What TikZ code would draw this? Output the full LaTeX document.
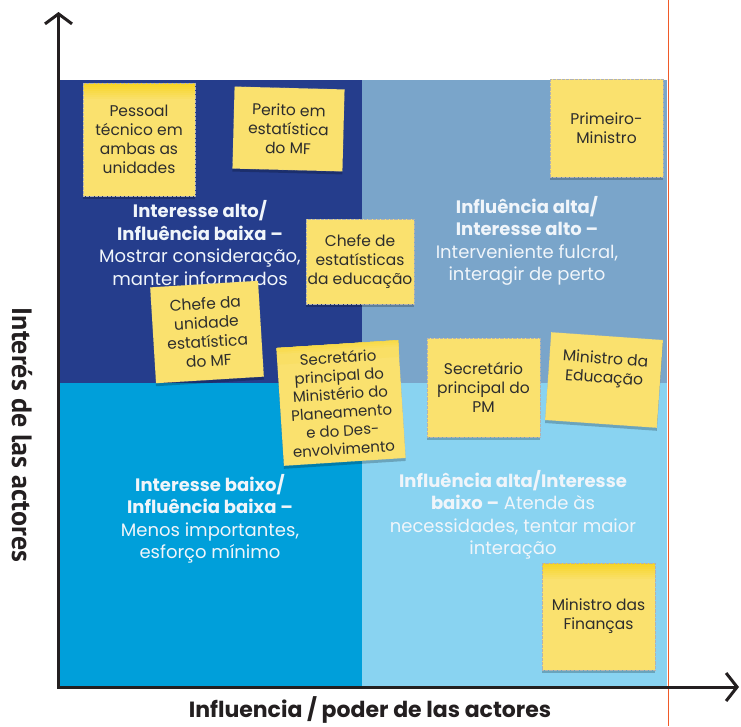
\documentclass[tikz,border=0pt]{standalone}
\usepackage{fontspec}
\setmainfont{Poppins}
\newfontfamily\axisfont{PT Sans}
\usetikzlibrary{arrows.meta,shadows}
\definecolor{qTL}{RGB}{37,61,140}
\definecolor{qTR}{RGB}{122,165,202}
\definecolor{qBL}{RGB}{0,159,218}
\definecolor{qBR}{RGB}{137,211,241}
\definecolor{sticky}{RGB}{250,225,110}
\definecolor{stickytop}{RGB}{246,212,38}
\definecolor{axiscol}{RGB}{35,31,32}
\definecolor{orangeline}{RGB}{240,90,40}
\definecolor{notetext}{RGB}{45,45,45}
\definecolor{qtext}{RGB}{240,245,250}
\tikzset{
  note/.style={fill=sticky, draw=black!30, densely dotted, line width=0.3pt,
    inner sep=0pt, align=center, text=notetext,
    font=\fontsize{15.5}{19}\selectfont,
    drop shadow={shadow xshift=0pt, shadow yshift=-3pt, opacity=0.22, fill=black}},
  gradnote/.style={note,
    path picture={\foreach \i in {0,...,7}{
      \pgfmathsetmacro\pct{100-\i*12.5}
      \fill[stickytop!\pct!sticky]
        ([yshift=-\i*2pt]path picture bounding box.north west) rectangle
        ([yshift=-\i*2pt-2.2pt]path picture bounding box.north east);}}},
  qlabel/.style={align=center, text=qtext, font=\fontsize{18}{22.5}\selectfont},
  axisline/.style={draw=axiscol, line width=3pt, line join=miter,
    {Straight Barb[length=10pt,width=27pt,line width=3pt]}-{Straight Barb[length=11pt,width=28pt,line width=3pt]}},
  axislabel/.style={text=axiscol, font=\axisfont\bfseries\fontsize{28}{32}\selectfont}
}
\begin{document}
\begin{tikzpicture}[x=1pt,y=-1pt]
\useasboundingbox (0,0) rectangle (741,726);
% quadrants
\fill[qTL] (60,80) rectangle (362,383);
\fill[qTR] (362,80) rectangle (667,383);
\fill[qBL] (60,383) rectangle (362,686);
\fill[qBR] (362,383) rectangle (667,686);
% orange guide
\draw[orangeline, line width=1pt] (668,0) -- (668,726);
% quadrant labels
\node[qlabel] (tl) at (200,243) {\textbf{Interesse alto/}\\\textbf{Influência baixa –}\\Mostrar consideração,\\manter informados};
\node[qlabel] (tr) at (527,241) {\textbf{Influência alta/}\\\textbf{Interesse alto –}\\Interveniente fulcral,\\interagir de perto};
\node[qlabel] (bl) at (210,519) {\textbf{Interesse baixo/}\\\textbf{Influência baixa –}\\Menos importantes,\\esforço mínimo};
\node[qlabel] (br) at (513,515) {\textbf{Influência alta/Interesse}\\\textbf{baixo –} Atende às\\necessidades, tentar maior\\interação};
% sticky notes
\node[gradnote, minimum width=112pt, minimum height=113pt] (n1) at (139,139.5) {Pessoal\\técnico em\\ambas as\\unidades};
\node[note, minimum width=110pt, minimum height=82pt, rotate=-1.5] (n2) at (288.5,129) {Perito em\\estatística\\do MF};
\node[note, minimum width=108pt, minimum height=96pt, rotate=3.5] (n3) at (207,332) {Chefe da\\unidade\\estatística\\do MF};
\node[note, minimum width=108pt, minimum height=85pt] (n4) at (360,261.5) {Chefe de\\estatísticas\\da educação};
\node[gradnote, minimum width=122pt, minimum height=118pt, rotate=3.7, font=\fontsize{15}{18.3}\selectfont] (n5) at (341,403) {Secretário\\principal do\\Ministério do\\Planeamento\\e do Des-\\envolvimento};
\node[note, minimum width=113pt, minimum height=99pt] (n6) at (483.5,387.5) {Secretário\\principal do\\PM};
\node[note, minimum width=112pt, minimum height=88pt, rotate=-4] (n7) at (604,380) {Ministro da\\Educação\\[6pt]};
\node[note, minimum width=113pt, minimum height=98pt] (n8) at (606.5,128) {Primeiro-\\Ministro};
\node[gradnote, minimum width=113pt, minimum height=107pt] (n9) at (598.5,616.5) {Ministro das\\Finanças};
% axes
\coordinate (ytip) at (58.5,12);
\coordinate (origin) at (58.5,687);
\coordinate (xtip) at (739,687);
\draw[axisline] (ytip) -- (origin) -- (xtip);
\node[axislabel, rotate=-90] (ylab) at (22,435) {Interés de las actores};
\node[axislabel, font=\bfseries\fontsize{22}{26}\selectfont] (xlab) at (370,710) {Influencia / poder de las actores};
\end{tikzpicture}
\end{document}
